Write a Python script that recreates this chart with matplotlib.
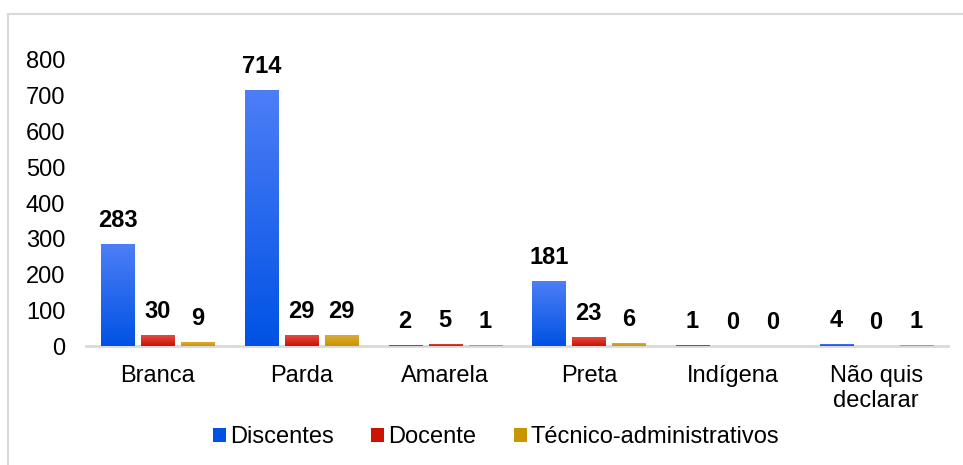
import matplotlib
matplotlib.use("Agg")
import matplotlib.pyplot as plt
from matplotlib.colors import LinearSegmentedColormap
from matplotlib.patches import Patch
from matplotlib.lines import Line2D
import numpy as np

plt.rcParams['font.family'] = ['Liberation Sans', 'DejaVu Sans']

categorias = ['Branca', 'Parda', 'Amarela', 'Preta', 'Indígena', 'Não quis\ndeclarar']
discentes = [283, 714, 2, 181, 1, 4]
docente = [30, 29, 5, 23, 0, 0]
tecnicos = [9, 29, 1, 6, 0, 1]
series = ['Discentes', 'Docente', 'Técnico-administrativos']

# gradient colours (top, bottom) per series
cores = [('#4d7ef6', '#0052e4'), ('#e24a46', '#cc1200'), ('#dcaa3a', '#c89600')]

fig = plt.figure(figsize=(9.63, 4.65), dpi=100)
ax = fig.add_axes([86/963, 119/465, 862/963, 286/465])

x = np.arange(len(categorias))
w = 0.23
desloc = 0.278
grad = np.linspace(1, 0, 256).reshape(-1, 1)

for i, (vals, (c_top, c_bot)) in enumerate(zip([discentes, docente, tecnicos], cores)):
    cmap = LinearSegmentedColormap.from_list('g%d' % i, [c_bot, c_top])
    for xi, v in zip(x, vals):
        xc = xi + (i - 1) * desloc
        if v > 0:
            ax.imshow(grad, extent=[xc - w/2, xc + w/2, 0, v], aspect='auto',
                      cmap=cmap, zorder=2, interpolation='bicubic')
        ax.annotate(str(v), (xc, v), xytext=(0, 12.5), textcoords='offset points',
                    ha='center', va='baseline', fontsize=17, fontweight='bold',
                    annotation_clip=False)

ax.set_xlim(-0.5, len(categorias) - 0.5)
ax.set_ylim(0, 800)
ax.set_yticks(range(0, 900, 100))
ax.set_xticks(x)
ax.set_xticklabels(categorias, fontsize=17, linespacing=1.15)
ax.tick_params(axis='y', length=0, pad=15, labelsize=17)
ax.tick_params(axis='x', length=0, pad=14)
for s in ['left', 'right', 'top']:
    ax.spines[s].set_visible(False)
ax.spines['bottom'].set_color('#d9d9d9')
ax.spines['bottom'].set_linewidth(2)
ax.spines['bottom'].set_zorder(1)

handles = [Patch(facecolor=c[1], edgecolor='none') for c in cores]
fig.legend(handles, series, loc='center', bbox_to_anchor=(496/963, 1 - 437/465),
           ncol=3, frameon=False, fontsize=17, handlelength=0.55, handleheight=0.55,
           handletextpad=0.15, columnspacing=1.6)

# outer chart border (left and top only visible)
fig.add_artist(Line2D([8/963, 8/963], [0, 1 - 14/465], color='#d9d9d9', lw=1.5))
fig.add_artist(Line2D([8/963, 1], [1 - 14/465, 1 - 14/465], color='#d9d9d9', lw=1.5))

fig.savefig('out.png', dpi=100)
